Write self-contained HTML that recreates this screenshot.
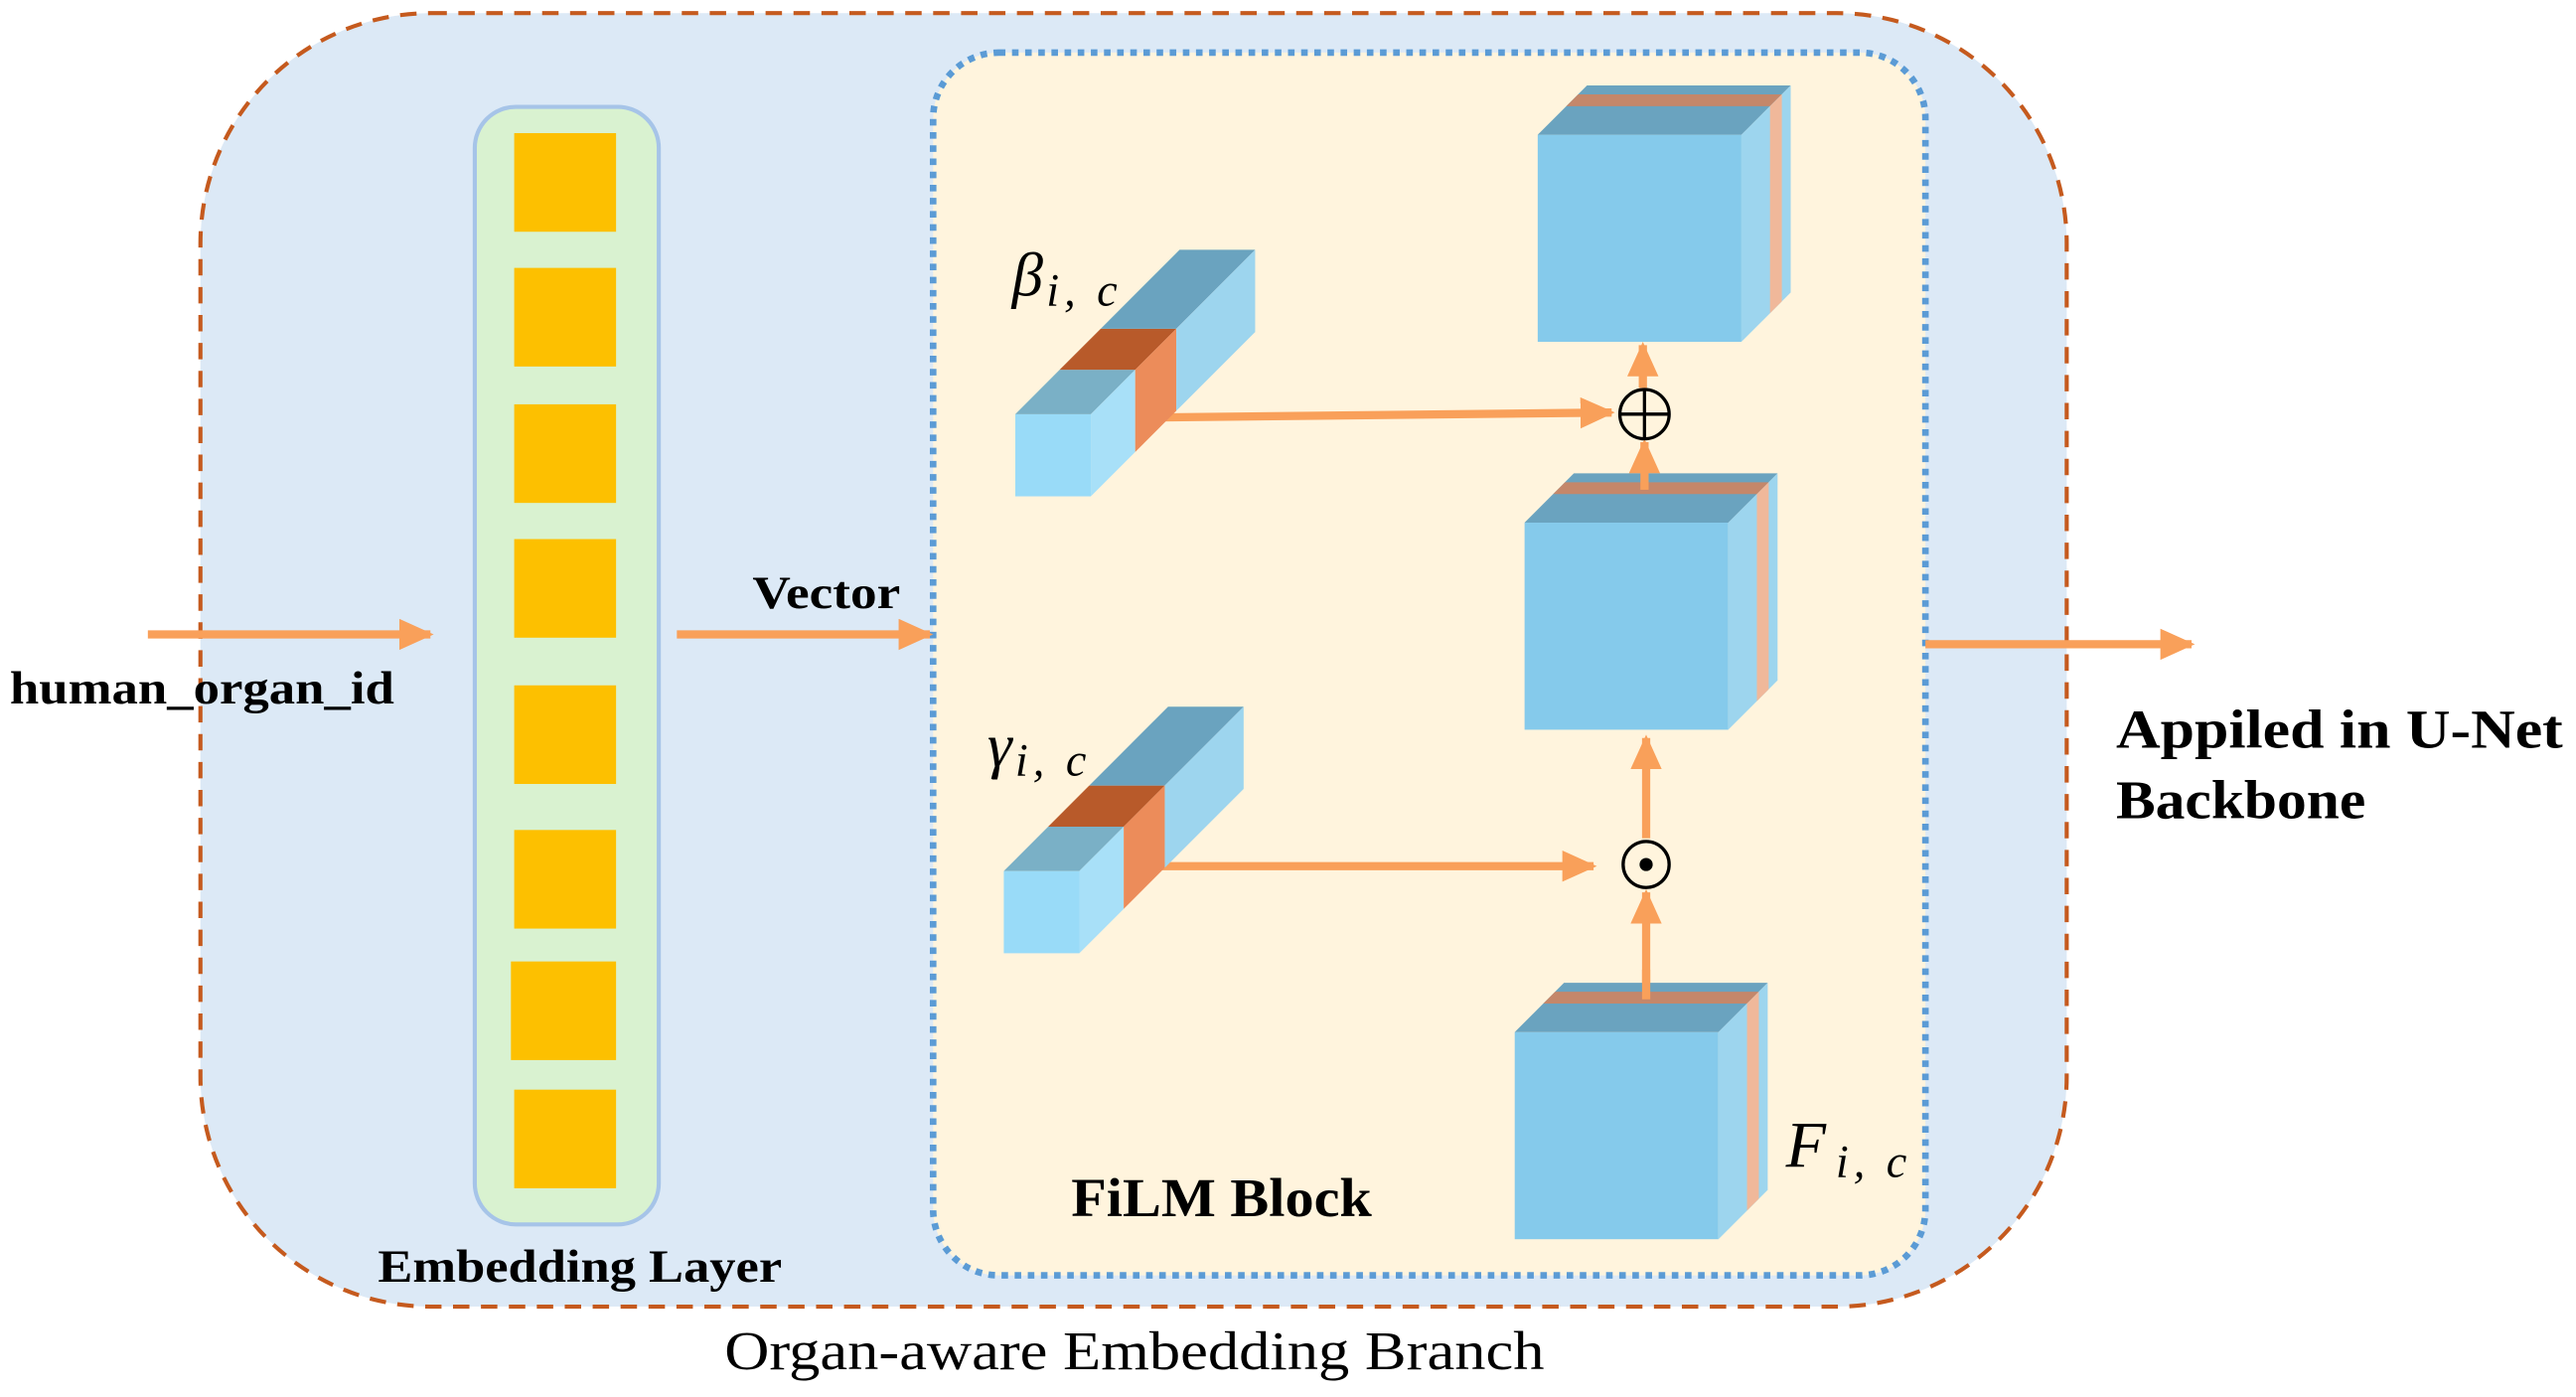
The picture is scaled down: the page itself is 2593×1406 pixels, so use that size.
<!DOCTYPE html>
<html><head><meta charset="utf-8"><style>html,body{margin:0;padding:0;background:#fff}svg{display:block}</style></head>
<body>
<svg width="2593" height="1406" viewBox="0 0 1568 850" preserveAspectRatio="none" xmlns="http://www.w3.org/2000/svg">
<defs>
<marker id="ah" markerWidth="5" markerHeight="5" refX="3.8" refY="1.9" orient="auto" markerUnits="strokeWidth"><path d="M0,0 L4.2,1.9 L0,3.8 Z" fill="#f9a05a"/></marker>
<g id="cube">
<rect x="0" y="0" width="124" height="126" fill="#85caeb"/>
<polygon points="0,0 124,0 154,-30 30,-30" fill="#6aa3bf"/>
<polygon points="17.4,-17.4 141.4,-17.4 148.6,-24.6 24.6,-24.6" fill="#c4876a"/>
<polygon points="124,0 154,-30 154,96 124,126" fill="#9dd5ee"/>
<polygon points="141.4,-17.4 148.6,-24.6 148.6,101.4 141.4,108.6" fill="#f0b89a"/>
</g>
<g id="bar">
<rect x="0" y="0" width="46" height="50" fill="#99dbf8"/>
<polygon points="0,0 46,0 73,-27 27,-27" fill="#7ab0c6"/>
<polygon points="46,0 73,-27 73,23 46,50" fill="#a8e0f8"/>
<polygon points="27,-27 73,-27 98,-52 52,-52" fill="#b85a2a"/>
<polygon points="73,-27 98,-52 98,-2 73,23" fill="#ec8c5a"/>
<polygon points="52,-52 98,-52 146,-100 100,-100" fill="#6aa3bf"/>
<polygon points="98,-52 146,-100 146,-50 98,-2" fill="#9dd5ee"/>
</g>
</defs>
<rect x="122" y="8" width="1136" height="787" rx="140" fill="#dce9f6" stroke="#c55a1e" stroke-width="2.5" stroke-dasharray="10,7"/>
<rect x="289" y="65" width="112" height="680" rx="25" fill="#d9f2d0" stroke="#a6c4e8" stroke-width="2.5"/>
<g fill="#fdc000">
<rect x="313" y="81" width="62" height="60"/><rect x="313" y="163" width="62" height="60"/>
<rect x="313" y="246" width="62" height="60"/><rect x="313" y="328" width="62" height="60"/>
<rect x="313" y="417" width="62" height="60"/><rect x="313" y="505" width="62" height="60"/>
<rect x="311" y="585" width="64" height="60"/><rect x="313" y="663" width="62" height="60"/>
</g>
<rect x="568" y="32" width="604" height="744" rx="40" fill="#fff4dd" stroke="#5b9bd5" stroke-width="4" stroke-dasharray="4,4"/>
<g stroke="#f9a05a" stroke-width="5" fill="none" marker-end="url(#ah)">
<line x1="90" y1="386" x2="262" y2="386"/>
<line x1="412" y1="386" x2="566" y2="386"/>
<line x1="1172" y1="392" x2="1334" y2="392"/>
<line x1="706" y1="254" x2="981" y2="251"/>
<line x1="706" y1="527" x2="970" y2="527"/>
<line x1="1002" y1="610" x2="1002" y2="543"/>
<line x1="1002" y1="510" x2="1002" y2="449"/>
<line x1="1001" y1="296" x2="1001" y2="269"/>
<line x1="1000" y1="236" x2="1000" y2="210"/>
</g>
<use href="#cube" x="936" y="82"/>
<use href="#cube" x="928" y="318"/>
<use href="#cube" x="922" y="628"/>
<line x1="1002" y1="608" x2="1002" y2="590" stroke="#f9a05a" stroke-width="5"/>
<line x1="1001" y1="298" x2="1001" y2="285" stroke="#f9a05a" stroke-width="5"/>
<use href="#bar" x="618" y="252"/>
<use href="#bar" x="611" y="530"/>
<circle cx="1001" cy="252" r="15" fill="none" stroke="#000" stroke-width="2"/>
<line x1="986" y1="252" x2="1016" y2="252" stroke="#000" stroke-width="2"/>
<line x1="1001" y1="237" x2="1001" y2="267" stroke="#000" stroke-width="2"/>
<circle cx="1002" cy="526" r="14" fill="none" stroke="#000" stroke-width="2"/>
<circle cx="1002" cy="526" r="4" fill="#000"/>
<g font-family="Liberation Serif, serif" fill="#000">
<text x="6" y="428" font-size="28" font-weight="bold" textLength="234" lengthAdjust="spacingAndGlyphs">human_organ_id</text>
<text x="458" y="370" font-size="28" font-weight="bold" textLength="90" lengthAdjust="spacingAndGlyphs">Vector</text>
<text x="230" y="780" font-size="28" font-weight="bold" textLength="246" lengthAdjust="spacingAndGlyphs">Embedding Layer</text>
<text x="652" y="740" font-size="33" font-weight="bold" textLength="183" lengthAdjust="spacingAndGlyphs">FiLM Block</text>
<text x="441" y="833" font-size="33" textLength="499" lengthAdjust="spacingAndGlyphs">Organ-aware Embedding Branch</text>
<text x="1288" y="455" font-size="33" font-weight="bold" textLength="272" lengthAdjust="spacingAndGlyphs">Appiled in U-Net</text>
<text x="1288" y="498" font-size="33" font-weight="bold" textLength="152" lengthAdjust="spacingAndGlyphs">Backbone</text>
<text x="616" y="180" font-size="38" font-style="italic">β<tspan font-size="28" dx="2" dy="6" letter-spacing="3">i, c</tspan></text>
<text x="601" y="466" font-size="38" font-style="italic">γ<tspan font-size="28" dx="2" dy="6" letter-spacing="3">i, c</tspan></text>
<text x="1087" y="710" font-size="40" font-style="italic">F<tspan font-size="28" dx="6" dy="6" letter-spacing="3">i, c</tspan></text>
</g>
</svg>
</body></html>
